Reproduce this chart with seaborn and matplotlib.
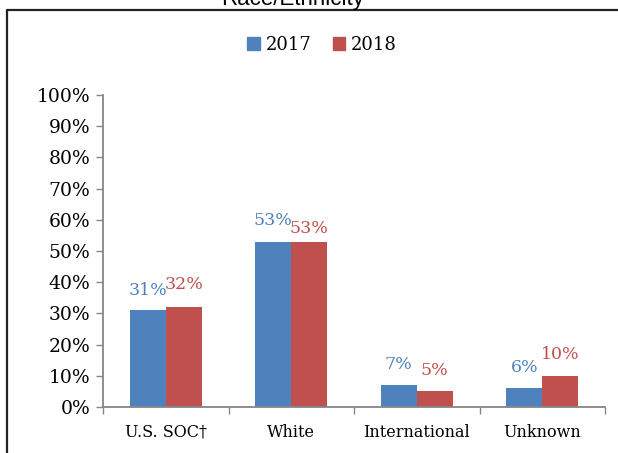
import matplotlib
matplotlib.use("Agg")
import matplotlib.pyplot as plt
from matplotlib.lines import Line2D
import numpy as np
import pandas as pd
import seaborn as sns

# chart data
categories = ["U.S. SOC\u2020", "White", "International", "Unknown"]
years = ["2017", "2018"]
values_2017 = [31, 53, 7, 6]
values_2018 = [32, 53, 5, 10]

df = pd.DataFrame({
    "group": categories * 2,
    "year": [years[0]] * 4 + [years[1]] * 4,
    "pct": values_2017 + values_2018,
})

sns.set_theme(style="white")
plt.rcParams["font.family"] = ["DejaVu Serif"]
plt.rcParams["text.color"] = "black"

colors = {"2017": "#4F81BD", "2018": "#C0504D"}
spine_grey = "#868686"

fig = plt.figure(figsize=(6.18, 4.53), dpi=100)
ax = fig.add_axes([103 / 618, 46 / 453, 502 / 618, 312 / 453])

sns.barplot(data=df, x="group", y="pct", hue="year", palette=colors,
            width=0.57, gap=0, saturation=1, ax=ax, legend=False,
            linewidth=0, edgecolor="none")

ax.set_ylim(0, 100)
ax.set_xlim(-0.5, len(categories) - 0.5)
ax.set_yticks(np.arange(0, 101, 10))
ax.set_yticklabels([f"{v}%" for v in range(0, 101, 10)])
ax.set_xlabel("")
ax.set_ylabel("")

# ticks between categories, like the spreadsheet chart
ax.set_xticks(np.arange(-0.5, len(categories), 1.0), minor=True)
ax.tick_params(axis="x", which="major", length=0, pad=12, labelsize=11.5,
               labelcolor="black")
ax.tick_params(axis="x", which="minor", length=5, width=1, color=spine_grey,
               direction="out", bottom=True)
ax.tick_params(axis="y", length=5, width=1, color=spine_grey, direction="out",
               left=True, labelsize=13.5, pad=4, labelcolor="black")

for side in ["top", "right"]:
    ax.spines[side].set_visible(False)
for side in ["left", "bottom"]:
    ax.spines[side].set_color(spine_grey)
    ax.spines[side].set_linewidth(1.3)

# data labels; white 2018 label sits lower in the original
extra_raise = {(0, 0): 8, (0, 1): 10, (1, 0): 9, (1, 1): 3,
               (2, 0): 9, (2, 1): 9, (3, 0): 9, (3, 1): 9}
for si, (cont, yr) in enumerate(zip(ax.containers, years)):
    for ci, bar in enumerate(cont):
        h = bar.get_height()
        ax.annotate(f"{h:.0f}%", (bar.get_x() + bar.get_width() / 2, h),
                    xytext=(0, extra_raise[(ci, si)]), textcoords="offset points",
                    ha="center", va="bottom", color=colors[yr], fontsize=12.5)

# legend at top centre
handles = [plt.Rectangle((0, 0), 1, 1, color=colors[y]) for y in years]
fig.legend(handles, years, loc="center", bbox_to_anchor=(322 / 618, 1 - 45 / 453),
           ncol=2, frameon=False, fontsize=13, handlelength=0.7, handleheight=0.7,
           handletextpad=0.3, columnspacing=1.2)

# title cut off by the top edge
fig.text(293 / 618, 1 - 5 / 453, "Race/Ethnicity", ha="center", va="baseline",
         fontsize=16, family=["Liberation Sans", "DejaVu Sans"])

# outer chart border (left and top only visible)
bx = 6.5 / 618
by = 1 - 9.5 / 453
fig.add_artist(Line2D([bx, bx], [0, by], transform=fig.transFigure,
                      color="#222222", lw=1.6))
fig.add_artist(Line2D([bx, 1], [by, by], transform=fig.transFigure,
                      color="#222222", lw=1.6))

fig.savefig("out.png", dpi=100)
